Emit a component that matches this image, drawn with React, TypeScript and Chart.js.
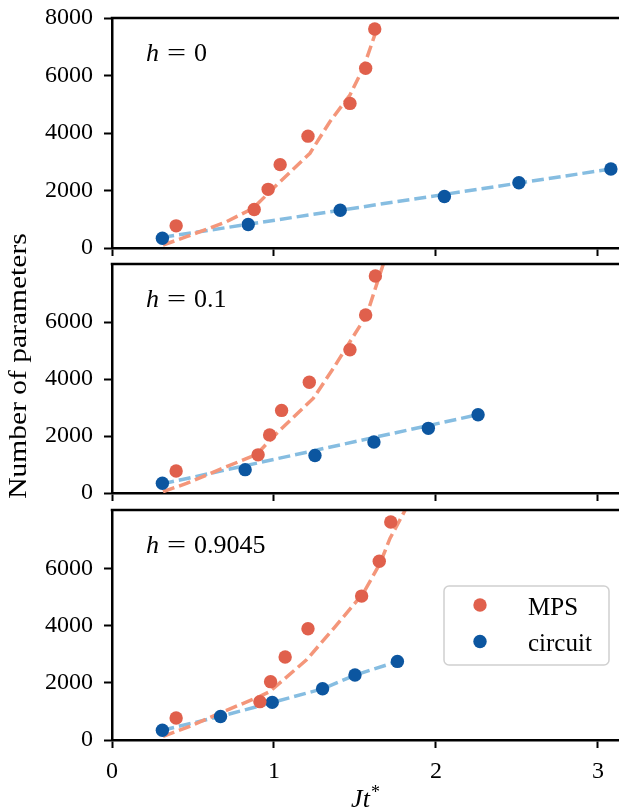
import React, { useEffect, useRef } from 'react';
import { Chart, registerables } from 'chart.js';

Chart.register(...registerables);

// ---------------- data ----------------
const X_TICKS = [0, 1, 2, 3];
const Y_TICKS_TOP = [0, 2000, 4000, 6000, 8000];
const Y_TICKS_LOWER = [0, 2000, 4000, 6000];
const H_VALUES = ['0', '0.1', '0.9045'];
const LEGEND_LABELS = ['MPS', 'circuit'];
const X_LABEL = 'Jt';
const Y_LABEL = 'Number of parameters';

const MPS_PARAMS = [770, 1340, 2040, 2900, 3890, 5030, 6250, 7620];
const CIRCUIT_PARAMS = [340, 820, 1315, 1790, 2270, 2748];

// h = 0
const MPS_T_H0 = [0.396, 0.878, 0.964, 1.038, 1.21, 1.469, 1.566, 1.622];
const CIRC_T_H0 = [0.311, 0.841, 1.409, 2.052, 2.512, 3.08];
const MPS_FIT_T_H0 = [0.315, 0.46, 0.707, 0.871, 1.016, 1.222, 1.345, 1.469, 1.551, 1.634];
const MPS_FIT_N_H0 = [104, 393, 915, 1380, 2190, 3294, 4393, 5322, 6250, 7600];
const CIRC_FIT_T_H0 = [0.31, 3.09];
const CIRC_FIT_N_H0 = [370, 2755];

// h = 0.1
const MPS_T_H1 = [0.396, 0.902, 0.973, 1.047, 1.218, 1.469, 1.566, 1.626];
const CIRC_T_H1 = [0.311, 0.822, 1.253, 1.617, 1.953, 2.26];
const MPS_FIT_T_H1 = [0.315, 0.46, 0.707, 0.892, 1.016, 1.242, 1.366, 1.469, 1.572, 1.675];
const MPS_FIT_N_H1 = [46, 337, 923, 1355, 2091, 3319, 4373, 5309, 6246, 8040];
const CIRC_FIT_T_H1 = [0.31, 2.26];
const CIRC_FIT_N_H1 = [320, 2750];

// h = 0.9045
const MPS_T_H2 = [0.396, 0.913, 0.979, 1.069, 1.21, 1.541, 1.65, 1.721];
const CIRC_T_H2 = [0.311, 0.67, 0.989, 1.3, 1.5, 1.762];
const MPS_FIT_T_H2 = [0.315, 0.48, 0.666, 0.913, 0.975, 1.201, 1.387, 1.551, 1.655, 1.716, 1.81];
const MPS_FIT_N_H2 = [129, 477, 942, 1523, 1698, 2802, 4022, 5128, 6174, 7046, 8040];
const CIRC_FIT_T_H2 = [0.311, 0.67, 0.989, 1.3, 1.5, 1.762];
const CIRC_FIT_N_H2 = [340, 827, 1310, 1790, 2267, 2745];

// ---------------- style / layout ----------------
const W = 619;
const H = 812;
const SERIF = '"Liberation Serif", "Times New Roman", serif';
const FS = 24;
const FS_LABEL = 26;
const FS_LEGEND = 25;
const MPS_DOT = '#e0604c';
const CIRC_DOT = '#0c56a0';
const MPS_LINE = '#f4967a';
const CIRC_LINE = '#86bde1';
const DOT_R = 6.7;

const PANELS = [
  { top: 18, bottom: 248, ymax: 8000, yticks: Y_TICKS_TOP, h: H_VALUES[0],
    mpsT: MPS_T_H0, circT: CIRC_T_H0, mfT: MPS_FIT_T_H0, mfN: MPS_FIT_N_H0, cfT: CIRC_FIT_T_H0, cfN: CIRC_FIT_N_H0 },
  { top: 264, bottom: 493, ymax: 8040, yticks: Y_TICKS_LOWER, h: H_VALUES[1],
    mpsT: MPS_T_H1, circT: CIRC_T_H1, mfT: MPS_FIT_T_H1, mfN: MPS_FIT_N_H1, cfT: CIRC_FIT_T_H1, cfN: CIRC_FIT_N_H1 },
  { top: 510, bottom: 740, ymax: 8040, yticks: Y_TICKS_LOWER, h: H_VALUES[2],
    mpsT: MPS_T_H2, circT: CIRC_T_H2, mfT: MPS_FIT_T_H2, mfN: MPS_FIT_N_H2, cfT: CIRC_FIT_T_H2, cfN: CIRC_FIT_N_H2 },
];

const zip = (xs: number[], ys: number[]) => xs.map((x, i) => ({ x, y: ys[i] }));

function decorPlugin(idx: number) {
  return {
    id: 'decor' + idx,
    afterDraw(chart: any) {
      const { ctx, chartArea } = chart;
      const p = PANELS[idx];
      ctx.save();
      // top spine
      ctx.strokeStyle = '#000';
      ctx.lineWidth = 2.5;
      ctx.beginPath();
      ctx.moveTo(chartArea.left - 1.25, chartArea.top);
      ctx.lineTo(chartArea.right, chartArea.top);
      ctx.stroke();

      // panel label  h = value
      ctx.fillStyle = '#000';
      ctx.textBaseline = 'alphabetic';
      ctx.textAlign = 'left';
      let x = chartArea.left + 34;
      const y = chartArea.top + 43;
      ctx.font = `italic ${FS_LABEL}px ${SERIF}`;
      ctx.fillText('h', x, y);
      x += ctx.measureText('h').width + 8;
      ctx.font = `${FS_LABEL}px ${SERIF}`;
      ctx.save();
      ctx.scale(1.3, 1);
      ctx.fillText('=', x / 1.3, y);
      ctx.restore();
      x += ctx.measureText('=').width * 1.3 + 8;
      ctx.fillText(p.h, x, y);

      if (idx === 2) {
        // legend
        const bx = chartArea.right - 175;
        const by = chartArea.top + 76;
        const bw = 165;
        const bh = 79;
        ctx.beginPath();
        (ctx as any).roundRect(bx, by, bw, bh, 5);
        ctx.fillStyle = 'rgba(255,255,255,0.8)';
        ctx.fill();
        ctx.strokeStyle = '#d0d0d0';
        ctx.lineWidth = 1.5;
        ctx.stroke();
        const items = [
          { label: LEGEND_LABELS[0], color: MPS_DOT, cy: by + 19 },
          { label: LEGEND_LABELS[1], color: CIRC_DOT, cy: by + 55.5 },
        ];
        for (const it of items) {
          ctx.beginPath();
          ctx.arc(bx + 36, it.cy, DOT_R, 0, Math.PI * 2);
          ctx.fillStyle = it.color;
          ctx.fill();
          ctx.fillStyle = '#000';
          ctx.font = `${FS_LEGEND}px ${SERIF}`;
          ctx.textBaseline = 'alphabetic';
          ctx.fillText(it.label, bx + 84, it.cy + 9.5);
        }

        // x label  Jt*
        ctx.font = `italic ${FS_LABEL}px ${SERIF}`;
        const wMain = ctx.measureText(X_LABEL).width;
        ctx.font = `${Math.round(FS_LABEL * 0.7)}px ${SERIF}`;
        const wStar = ctx.measureText('*').width;
        const cx = (chartArea.left + chartArea.right) / 2;
        const sx = cx - (wMain + wStar + 1) / 2;
        const ly = chartArea.bottom + 66.5;
        ctx.fillStyle = '#000';
        ctx.font = `italic ${FS_LABEL}px ${SERIF}`;
        ctx.fillText(X_LABEL, sx, ly);
        ctx.font = `${Math.round(FS_LABEL * 0.7)}px ${SERIF}`;
        ctx.fillText('*', sx + wMain + 1, ly - 9);

        // y label
        ctx.save();
        ctx.translate(19, 366);
        ctx.rotate(-Math.PI / 2);
        ctx.scale(1.18, 1);
        ctx.font = `${FS_LEGEND}px ${SERIF}`;
        ctx.textAlign = 'center';
        ctx.textBaseline = 'middle';
        ctx.fillText(Y_LABEL, 0, 0);
        ctx.restore();
      }
      ctx.restore();
    },
  };
}

function makeConfig(idx: number): any {
  const p = PANELS[idx];
  const axisCommon = {
    grid: {
      drawOnChartArea: false,
      drawTicks: true,
      tickLength: 8,
      tickWidth: 2,
      tickColor: '#000',
      color: '#000',
    },
    border: { display: true, color: '#000', width: 2.5 },
  };
  const zeroPad = (s: any) => {
    s.paddingTop = 0;
    s.paddingBottom = 0;
    s.paddingLeft = 0;
    s.paddingRight = 0;
  };
  return {
    type: 'scatter',
    data: {
      datasets: [
        { label: LEGEND_LABELS[0], data: zip(p.mpsT, MPS_PARAMS), backgroundColor: MPS_DOT, borderWidth: 0,
          pointRadius: DOT_R, pointHoverRadius: DOT_R },
        { label: LEGEND_LABELS[1], data: zip(p.circT, CIRCUIT_PARAMS), backgroundColor: CIRC_DOT, borderWidth: 0,
          pointRadius: DOT_R, pointHoverRadius: DOT_R },
        { label: 'MPS fit', data: zip(p.mfT, p.mfN), showLine: true, borderColor: MPS_LINE, borderWidth: 3.5,
          borderDash: [12, 5], pointRadius: 0, tension: 0, fill: false },
        { label: 'circuit fit', data: zip(p.cfT, p.cfN), showLine: true, borderColor: CIRC_LINE, borderWidth: 3.5,
          borderDash: [12, 5], pointRadius: 0, tension: 0, fill: false },
      ],
    },
    options: {
      responsive: false,
      animation: false,
      events: [],
      layout: { autoPadding: false, padding: { top: p.top, left: 0, right: 0, bottom: 0 } },
      plugins: { legend: { display: false }, tooltip: { enabled: false }, title: { display: false } },
      scales: {
        x: {
          type: 'linear',
          min: 0,
          max: 3.13,
          ...axisCommon,
          afterBuildTicks: (s: any) => { s.ticks = X_TICKS.map((v) => ({ value: v })); },
          afterFit: (s: any) => { s.height = H - p.bottom; zeroPad(s); },
          ticks: {
            display: idx === 2,
            color: '#000',
            font: { family: SERIF, size: FS },
            padding: 9,
            maxRotation: 0,
            callback: (v: any) => String(v),
          },
        },
        y: {
          type: 'linear',
          min: 0,
          max: p.ymax,
          ...axisCommon,
          afterBuildTicks: (s: any) => { s.ticks = p.yticks.map((v) => ({ value: v })); },
          afterFit: (s: any) => { s.width = 112; zeroPad(s); },
          ticks: {
            color: '#000',
            font: { family: SERIF, size: FS },
            padding: 11,
            callback: (v: any) => String(v),
          },
        },
      },
    },
    plugins: [decorPlugin(idx)],
  };
}

function Panel({ idx }: { idx: number }) {
  const ref = useRef<HTMLCanvasElement>(null);
  useEffect(() => {
    if (!ref.current) return;
    const chart = new Chart(ref.current, makeConfig(idx));
    return () => chart.destroy();
  }, [idx]);
  return (
    <canvas
      ref={ref}
      width={W}
      height={H}
      style={{ position: 'absolute', left: 0, top: 0, width: W, height: H, display: 'block' }}
    />
  );
}

export default function App() {
  return (
    <div style={{ position: 'fixed', left: 0, top: 0, width: W, height: H, background: '#fff', overflow: 'hidden' }}>
      {PANELS.map((_, i) => (
        <Panel key={i} idx={i} />
      ))}
    </div>
  );
}
